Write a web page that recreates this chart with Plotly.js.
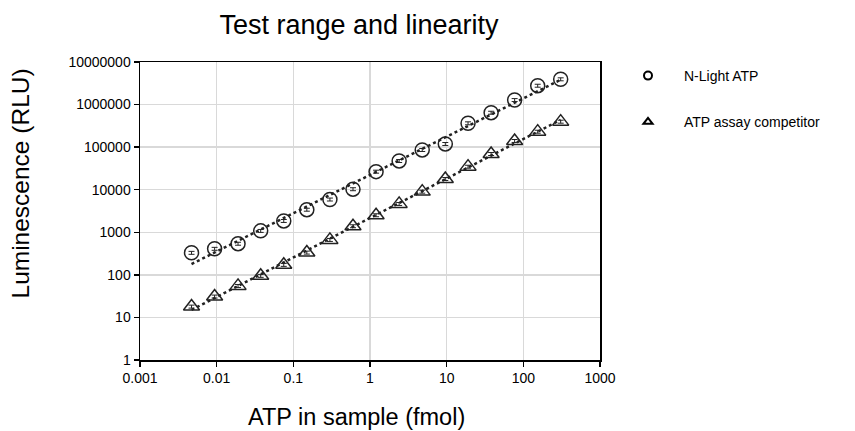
<!DOCTYPE html>
<html>
<head>
<meta charset="utf-8">
<script src="https://cdn.plot.ly/plotly-3.0.1.min.js"></script>
<style>html,body{margin:0;padding:0;background:#fff;}#chart{width:855px;height:431px;}</style>
</head>
<body>
<div id="chart"></div>
<script>
// ATP amount in sample (fmol), 2-fold dilution series
var atpFmol = [0.0047, 0.0094, 0.019, 0.0375, 0.075, 0.15, 0.3, 0.6, 1.2, 2.4, 4.8, 9.6, 19, 38, 77, 154, 307];
// Luminescence (RLU)
var nLightRLU = [330, 410, 540, 1080, 1850, 3400, 5900, 10300, 26600, 47400, 86000, 119000, 364000, 645000, 1280000, 2780000, 3930000];
var competitorRLU = [18, 31, 55, 95, 172, 334, 663, 1390, 2520, 4640, 9020, 17900, 34800, 69200, 140000, 231000, 397000];
var seriesNames = ["N-Light ATP", "ATP assay competitor"];
var yTickVals = [1, 10, 100, 1000, 10000, 100000, 1000000, 10000000];
var yTickText = ["1", "10", "100", "1000", "10000", "100000", "1000000", "10000000"];
var xTickVals = [0.001, 0.01, 0.1, 1, 10, 100, 1000];
var xTickText = ["0.001", "0.01", "0.1", "1", "10", "100", "1000"];
var chartTitle = "Test range and linearity";
var xTitle = "ATP in sample (fmol)";
var yTitle = "Luminescence (RLU)";

// power-law (log-log least squares) trendline, as in the spreadsheet fit
function powerFit(xs, ys) {
  var n = xs.length, sx = 0, sy = 0, sxx = 0, sxy = 0;
  for (var i = 0; i < n; i++) {
    var lx = Math.log10(xs[i]), ly = Math.log10(ys[i]);
    sx += lx; sy += ly; sxx += lx * lx; sxy += lx * ly;
  }
  var b = (n * sxy - sx * sy) / (n * sxx - sx * sx);
  var a = (sy - b * sx) / n;
  return xs.map(function (x) { return Math.pow(10, a + b * Math.log10(x)); });
}

var font = "Liberation Sans, Arial, sans-serif";
var errStyle = {type: "percent", value: 8, visible: true, color: "#222", thickness: 1, width: 3};

var traces = [
  {x: atpFmol, y: powerFit(atpFmol, nLightRLU), mode: "lines", line: {color: "#222", width: 2.5, dash: "dot"}, showlegend: false, hoverinfo: "skip"},
  {x: atpFmol, y: powerFit(atpFmol, competitorRLU), mode: "lines", line: {color: "#222", width: 2.5, dash: "dot"}, showlegend: false, hoverinfo: "skip"},
  {x: atpFmol, y: nLightRLU, mode: "markers", name: seriesNames[0], showlegend: false,
   marker: {symbol: "circle-open", size: 14, color: "#222", line: {width: 1.5, color: "#222"}}, error_y: errStyle},
  {x: atpFmol, y: competitorRLU, mode: "markers", name: seriesNames[1], showlegend: false,
   marker: {symbol: "triangle-up-open", size: 14, color: "#222", line: {width: 1.5, color: "#222"}}, error_y: errStyle},
  {x: [null], y: [null], mode: "markers", name: seriesNames[0], legendgroup: "a",
   marker: {symbol: "circle-open", size: 8, color: "#000", line: {width: 2, color: "#000"}}},
  {x: [null], y: [null], mode: "markers", name: seriesNames[1], legendgroup: "b",
   marker: {symbol: "triangle-up-open", size: 8, color: "#000", line: {width: 2, color: "#000"}}}
];

var layout = {
  width: 855, height: 431,
  margin: {l: 140, r: 255, t: 62, b: 71},
  paper_bgcolor: "#fff", plot_bgcolor: "#fff",
  font: {family: font, size: 14, color: "#000"},
  title: {text: chartTitle, x: 359 / 855, xref: "container", xanchor: "center", y: 1 - 24.5 / 431, yref: "container", yanchor: "middle", font: {family: font, size: 27, color: "#000"}},
  xaxis: {
    type: "log", range: [-3, 3], tickvals: xTickVals, ticktext: xTickText,
    showgrid: true, gridcolor: "#d9d9d9", gridwidth: 1.5,
    showline: true, linecolor: "#000", linewidth: 1.5, mirror: true,
    ticks: "outside", ticklen: 5, tickcolor: "#000", tickwidth: 1.5,
    zeroline: false, tickfont: {family: font, size: 14, color: "#000"}
  },
  yaxis: {
    type: "log", range: [0, 7], tickvals: yTickVals, ticktext: yTickText,
    showgrid: true, gridcolor: "#d9d9d9", gridwidth: 1.5,
    showline: true, linecolor: "#000", linewidth: 1.5, mirror: true,
    ticks: "outside", ticklen: 5, tickcolor: "#000", tickwidth: 1.5,
    zeroline: false, tickfont: {family: font, size: 14, color: "#000"}
  },
  annotations: [
    {text: xTitle, xref: "paper", yref: "paper", x: (356.5 - 140) / 460, y: (360 - 417) / 298, xanchor: "center", yanchor: "middle", showarrow: false, font: {family: font, size: 23.5, color: "#000"}},
    {text: yTitle, xref: "paper", yref: "paper", x: (19.5 - 140) / 460, y: (360 - 184) / 298, xanchor: "center", yanchor: "middle", textangle: -90, showarrow: false, font: {family: font, size: 24.5, color: "#000"}}
  ],
  showlegend: true,
  legend: {x: (612 - 140) / 460, y: (360 - 60) / 298, xanchor: "left", yanchor: "top", traceorder: "grouped", tracegroupgap: 25,
           font: {family: font, size: 14, color: "#000"}, bgcolor: "rgba(0,0,0,0)", itemwidth: 62},
  hovermode: false
};

Plotly.newPlot("chart", traces, layout, {displayModeBar: false, staticPlot: true});
</script>
</body>
</html>
